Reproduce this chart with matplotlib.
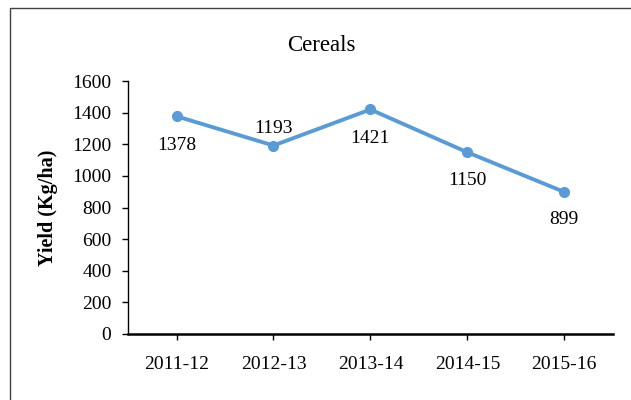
import matplotlib
matplotlib.use("Agg")
import matplotlib.pyplot as plt
from matplotlib.patches import Rectangle

years = ["2011-12", "2012-13", "2013-14", "2014-15", "2015-16"]
yield_kg = [1378, 1193, 1421, 1150, 899]
# label offsets in points (x, y)
lab_off = [(0, -21), (0, 12), (0, -21), (0, -20), (0, -20)]

plt.rcParams["font.family"] = ["Liberation Serif", "DejaVu Serif"]

fig = plt.figure(figsize=(6.31, 4.0), dpi=100)
ax = fig.add_axes([0.203, 0.165, 0.768, 0.632])

x = list(range(len(years)))
ax.plot(x, yield_kg, color="#5B9BD5", lw=2.8, marker="o", ms=7, zorder=3)
for xi, v, off in zip(x, yield_kg, lab_off):
    ax.annotate(str(v), (xi, v), xytext=off, textcoords="offset points",
                ha="center", va="center", fontsize=14)

ax.set_xlim(-0.5, len(years) - 0.5)
ax.set_ylim(0, 1600)
ax.set_yticks(range(0, 1601, 200))
ax.set_xticks(x)
ax.set_xticklabels(years)
ax.tick_params(axis="both", labelsize=14, direction="out", length=4, width=1)
ax.tick_params(axis="x", pad=12)
ax.tick_params(axis="y", pad=8)
for s in ("top", "right"):
    ax.spines[s].set_visible(False)
ax.spines["bottom"].set_linewidth(1.8)
ax.spines["left"].set_linewidth(1)

ax.set_ylabel("Yield (Kg/ha)", fontsize=14.5, fontweight="bold", labelpad=10)
fig.text(0.51, 0.887, "Cereals", ha="center", va="center", fontsize=16.5)

fig.patches.append(Rectangle((10 / 631, -0.1), 1.2, 1 - 8 / 400 + 0.1,
                             transform=fig.transFigure, fill=False,
                             edgecolor="#404040", lw=1))

fig.savefig("out.png", dpi=100)
